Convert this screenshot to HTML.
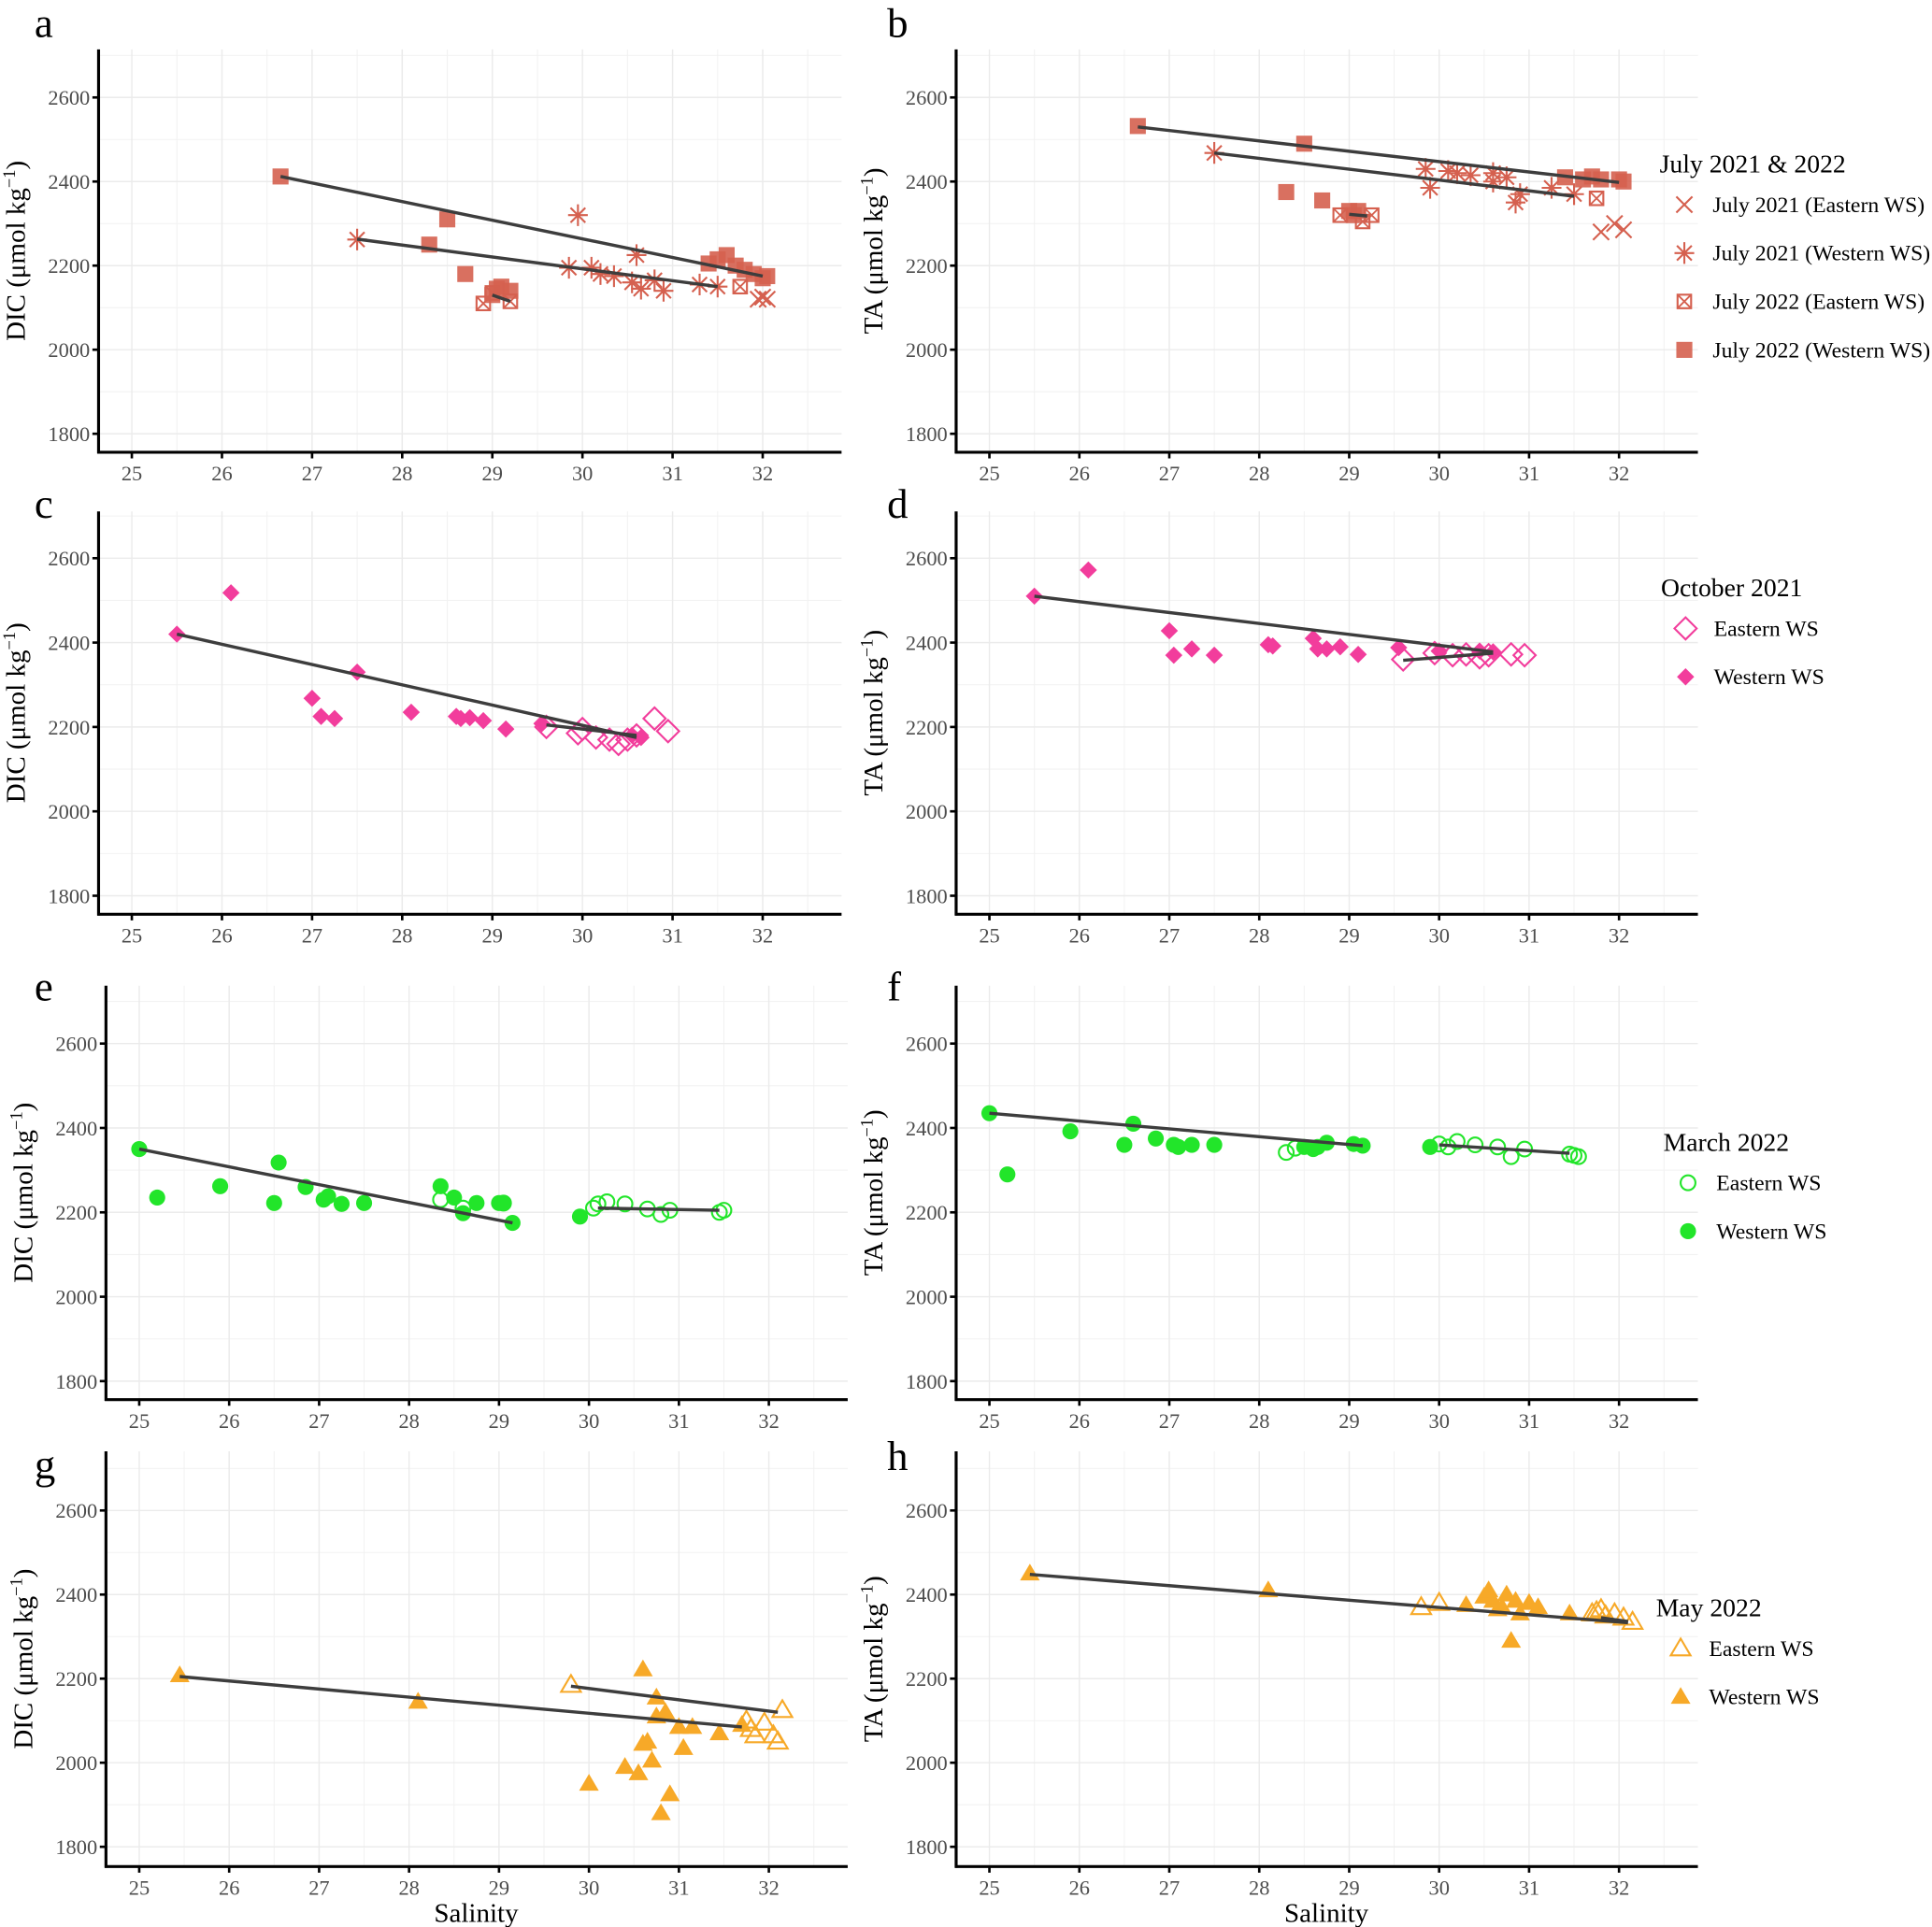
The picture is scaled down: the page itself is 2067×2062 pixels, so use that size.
<!DOCTYPE html>
<html><head><meta charset="utf-8"><style>
html,body{margin:0;padding:0;background:#fff}
svg{display:block}
text{font-family:"Liberation Serif","DejaVu Serif",serif}
</style></head><body>
<svg id="chart" width="2067" height="2062" viewBox="0 0 1568 1564" xmlns="http://www.w3.org/2000/svg"></svg>
<script>
// ---- data ----
const xTicks = [25,26,27,28,29,30,31,32];
const yTicks = [1800,2000,2200,2400,2600];
// Panel a: DIC July
const aW22 = [[26.65,2412],[28.5,2310],[28.3,2250],[28.7,2180],[29.0,2130],[29.1,2150],[29.2,2140],[29.05,2145],[31.4,2205],[31.5,2215],[31.6,2225],[31.7,2200],[31.8,2190],[31.9,2180],[32.0,2170],[32.05,2175]];
const aE22 = [[28.9,2110],[29.2,2115],[29.0,2135],[31.75,2150]];
const aW21 = [[27.5,2262],[29.95,2320],[29.85,2195],[30.1,2195],[30.2,2180],[30.35,2175],[30.6,2225],[30.55,2160],[30.65,2145],[30.8,2165],[30.9,2140],[31.3,2155],[31.5,2150]];
const aE21 = [[31.95,2120],[32.05,2120],[32.0,2125]];
const aLines = [[26.65,2412,32.0,2175],[27.5,2263,31.5,2150],[29.0,2130,29.2,2115]];
// Panel b: TA July
const bW22 = [[26.65,2532],[28.5,2490],[28.3,2375],[28.7,2355],[29.0,2330],[29.1,2330],[29.05,2320],[31.4,2410],[31.6,2405],[31.7,2412],[31.8,2405],[32.0,2405],[32.05,2400]];
const bE22 = [[28.9,2320],[29.15,2305],[29.25,2320],[31.75,2360]];
const bW21 = [[27.5,2468],[29.85,2430],[29.9,2385],[30.1,2425],[30.2,2420],[30.35,2415],[30.6,2420],[30.6,2400],[30.75,2410],[30.85,2350],[30.9,2370],[31.25,2385],[31.5,2370]];
const bE21 = [[31.8,2280],[31.95,2300],[32.05,2285]];
const bLines = [[26.65,2530,32.0,2398],[27.5,2468,31.5,2365],[29.0,2322,29.2,2318]];
// Panel c: DIC October
const cW = [[25.5,2420],[26.1,2518],[27.0,2268],[27.1,2225],[27.25,2220],[27.5,2330],[28.1,2235],[28.6,2225],[28.65,2220],[28.75,2222],[28.9,2215],[29.15,2195],[29.55,2208],[30.55,2180],[30.65,2175]];
const cE = [[29.6,2200],[29.95,2185],[30.0,2195],[30.15,2175],[30.3,2170],[30.4,2160],[30.5,2170],[30.6,2180],[30.8,2220],[30.95,2190]];
const cLines = [[25.5,2420,30.6,2175],[29.6,2205,30.6,2180]];
// Panel d: TA October
const dW = [[25.5,2510],[26.1,2572],[27.0,2428],[27.05,2370],[27.25,2385],[27.5,2370],[28.1,2395],[28.15,2392],[28.6,2410],[28.65,2385],[28.75,2385],[28.9,2390],[29.1,2372],[29.55,2388],[30.0,2380],[30.45,2380],[30.6,2378]];
const dE = [[29.6,2360],[29.95,2375],[30.15,2370],[30.3,2372],[30.45,2365],[30.55,2370],[30.8,2372],[30.95,2370]];
const dLines = [[25.5,2510,30.6,2378],[29.6,2358,30.6,2375]];
// Panel e: DIC March
const eW = [[25.0,2350],[25.2,2235],[25.9,2262],[26.5,2222],[26.55,2318],[26.85,2260],[27.05,2230],[27.1,2238],[27.25,2220],[27.5,2222],[28.35,2262],[28.5,2235],[28.6,2198],[28.75,2222],[29.0,2222],[29.05,2222],[29.15,2175],[29.9,2190]];
const eE = [[28.35,2230],[28.6,2210],[29.05,2222],[30.05,2210],[30.1,2220],[30.2,2225],[30.4,2220],[30.65,2208],[30.8,2195],[30.9,2205],[31.45,2200],[31.5,2205]];
const eLines = [[25.0,2350,29.15,2175],[30.1,2210,31.45,2205]];
// Panel f: TA March
const fW = [[25.0,2435],[25.2,2290],[25.9,2392],[26.5,2360],[26.6,2410],[26.85,2375],[27.05,2360],[27.1,2355],[27.25,2360],[27.5,2360],[28.5,2355],[28.6,2350],[28.65,2355],[28.75,2365],[29.05,2362],[29.15,2358],[29.9,2355]];
const fE = [[28.3,2342],[28.4,2352],[30.0,2362],[30.1,2355],[30.2,2368],[30.4,2360],[30.65,2355],[30.8,2332],[30.95,2350],[31.45,2338],[31.5,2335],[31.55,2332]];
const fLines = [[25.0,2435,29.15,2358],[30.0,2360,31.45,2340]];
// Panel g: DIC May
const gW = [[25.45,2208],[28.1,2145],[30.0,1950],[30.4,1990],[30.55,1975],[30.6,2222],[30.6,2045],[30.65,2050],[30.7,2005],[30.75,2110],[30.75,2155],[30.8,1880],[30.85,2120],[30.9,1925],[31.0,2085],[31.05,2035],[31.15,2085],[31.45,2070],[31.7,2090]];
const gE = [[29.8,2185],[31.75,2100],[31.8,2080],[31.85,2065],[31.95,2095],[32.05,2065],[32.1,2050],[32.15,2125]];
const gLines = [[25.45,2205,31.7,2085],[29.8,2182,32.1,2120]];
// Panel h: TA May
const hW = [[25.45,2450],[28.1,2410],[30.3,2375],[30.5,2395],[30.55,2410],[30.6,2385],[30.65,2365],[30.7,2370],[30.75,2400],[30.8,2290],[30.85,2385],[30.9,2355],[31.0,2380],[31.1,2370],[31.45,2355]];
const hE = [[29.8,2370],[30.0,2380],[31.7,2355],[31.75,2360],[31.8,2365],[31.85,2350],[31.95,2355],[32.05,2345],[32.15,2335]];
const hLines = [[25.45,2448,32.1,2333],[31.8,2345,32.1,2336]];

const RED='#d5604f', PINK='#f23d9c', GREEN='#22e52a', ORANGE='#f7a928';
const NS='http://www.w3.org/2000/svg';
const svg=document.getElementById('chart');
function mk(tag,attrs,parent){const e=document.createElementNS(NS,tag);for(const k in attrs)e.setAttribute(k,attrs[k]);(parent||svg).appendChild(e);return e;}

function marker(g,shape,cx,cy,color){
  const s=6.5;
  let grp=mk('g',{},g);
  
  
  if(shape==='sqfill'){mk('rect',{x:cx-s,y:cy-s,width:2*s,height:2*s,fill:color,'fill-opacity':0.9},grp);}
  else if(shape==='sqx'){mk('rect',{x:cx-s+1,y:cy-s+1,width:2*s-2,height:2*s-2,fill:'none',stroke:color,'stroke-width':1.6},grp);
    mk('path',{d:`M${cx-s+1} ${cy-s+1}L${cx+s-1} ${cy+s-1}M${cx+s-1} ${cy-s+1}L${cx-s+1} ${cy+s-1}`,stroke:color,'stroke-width':1.4},grp);}
  else if(shape==='x'){mk('path',{d:`M${cx-s} ${cy-s}L${cx+s} ${cy+s}M${cx+s} ${cy-s}L${cx-s} ${cy+s}`,stroke:color,'stroke-width':1.6},grp);}
  else if(shape==='ast'){const r=8;mk('path',{d:`M${cx-r} ${cy}L${cx+r} ${cy}M${cx} ${cy-r*1.1}L${cx} ${cy+r*1.1}M${cx-6} ${cy-6}L${cx+6} ${cy+6}M${cx+6} ${cy-6}L${cx-6} ${cy+6}`,stroke:color,'stroke-width':1.6},grp);}
  else if(shape==='dfill'){const r=7;mk('path',{d:`M${cx} ${cy-r}L${cx+r} ${cy}L${cx} ${cy+r}L${cx-r} ${cy}Z`,fill:color},grp);}
  else if(shape==='dopen'){const r=9;mk('path',{d:`M${cx} ${cy-r}L${cx+r} ${cy}L${cx} ${cy+r}L${cx-r} ${cy}Z`,fill:'none',stroke:color,'stroke-width':1.6},grp);}
  else if(shape==='cfill'){mk('circle',{cx,cy,r:6.5,fill:color},grp);}
  else if(shape==='copen'){mk('circle',{cx,cy,r:6,fill:'none',stroke:color,'stroke-width':1.6},grp);}
  else if(shape==='tfill'){const r=8;mk('path',{d:`M${cx} ${cy-r}L${cx+r} ${cy+r*0.7}L${cx-r} ${cy+r*0.7}Z`,fill:color},grp);}
  else if(shape==='topen'){const r=8;mk('path',{d:`M${cx} ${cy-r}L${cx+r} ${cy+r*0.7}L${cx-r} ${cy+r*0.7}Z`,fill:'none',stroke:color,'stroke-width':1.6},grp);}
}

function panel(o){
  const g=mk('g',{});
  
  
  const xs=v=>o.x25+(v-25)*(o.x32-o.x25)/7;
  const ys=v=>o.y1800-(v-1800)*(o.y1800-o.y2600)/800;
  const x0=o.axL, x1=o.axR, y0=o.top, y1=o.axB;
  for(let v=24.5;v<=33;v+=1){const X=xs(v);if(X>x0&&X<x1)mk('line',{x1:X,x2:X,y1:y0,y2:y1,stroke:'#f2f2f2','stroke-width':0.8},g);}
  for(let v=1700;v<=2700;v+=200){const Y=ys(v);if(Y>y0&&Y<y1)mk('line',{x1:x0,x2:x1,y1:Y,y2:Y,stroke:'#f2f2f2','stroke-width':0.8},g);}
  xTicks.forEach(v=>{const X=xs(v);mk('line',{x1:X,x2:X,y1:y0,y2:y1,stroke:'#ebebeb','stroke-width':1.1},g);});
  yTicks.forEach(v=>{const Y=ys(v);mk('line',{x1:x0,x2:x1,y1:Y,y2:Y,stroke:'#ebebeb','stroke-width':1.1},g);});
  const ya=mk('line',{x1:x0,x2:x0,y1:y0,y2:y1+1,stroke:'#000','stroke-width':2.4},g);
  
  const xa=mk('line',{x1:x0-1,x2:x1,y1:y1,y2:y1,stroke:'#000','stroke-width':2.4},g);
  
  xTicks.forEach(v=>{const X=xs(v);mk('line',{x1:X,x2:X,y1:y1,y2:y1+5,stroke:'#000','stroke-width':2},g);
    const t=mk('text',{x:X,y:y1+23,'font-size':17,fill:'#4d4d4d','text-anchor':'middle'},g);t.textContent=v;
    });
  yTicks.forEach(v=>{const Y=ys(v);mk('line',{x1:x0-5,x2:x0,y1:Y,y2:Y,stroke:'#000','stroke-width':2},g);
    const t=mk('text',{x:x0-7,y:Y+6,'font-size':17,fill:'#4d4d4d','text-anchor':'end'},g);t.textContent=v;
    });
  const cy=(y0+y1)/2;
  const yt=mk('text',{x:0,y:0,'font-size':22,fill:'#000','text-anchor':'middle',transform:`translate(${o.ytx},${cy}) rotate(-90)`},g);
  yt.innerHTML=o.yvar+' (μmol kg<tspan dy="-8" font-size="14">−1</tspan><tspan dy="8">)</tspan>';
  
  const lt=mk('text',{x:o.lx,y:o.ly,'font-size':34,fill:'#000'},g);lt.textContent=o.letter;
  
  if(o.xtitle){const xt=mk('text',{x:(xs(25)+xs(32))/2+18,y:y1+45,'font-size':22,fill:'#000','text-anchor':'middle'},g);xt.textContent='Salinity';
    }
  o.series.forEach(s=>{s.data.forEach(p=>marker(g,s.shape,xs(p[0]),ys(p[1]),s.color));});
  o.lines.forEach(l=>{const ln=mk('line',{x1:xs(l[0]),y1:ys(l[1]),x2:xs(l[2]),y2:ys(l[3]),stroke:'#3d3d3d','stroke-width':2.6},g);
    });
}

function legend(name,x,y,title,entries){
  const g=mk('g',{});
  
  
  const t=mk('text',{x:x,y:y,'font-size':21,fill:'#000'},g);t.textContent=title;
  entries.forEach((e,i)=>{const ey=y+32+i*39.3;
    const eg=mk('g',{},g);
    
    
    marker(eg,e[0],x+20,ey-6,e[1]);
    const tt=mk('text',{x:x+43,y:ey,'font-size':18,fill:'#000'},eg);tt.textContent=e[2];});
}

const L={axL:80,axR:683,x25:107,x32:619}, R={axL:776,axR:1378,x25:803,x32:1314};
const L2={axL:86,axR:688,x25:113,x32:624}, R2={axL:776,axR:1378,x25:803,x32:1314};
const redS=(w22,e22,w21,e21)=>[{data:w22,shape:'sqfill',color:RED},{data:e22,shape:'sqx',color:RED},{data:w21,shape:'ast',color:RED},{data:e21,shape:'x',color:RED}];
panel({...L,name:'panel-a-dic-july',top:40,y2600:79,y1800:352,axB:367,ytx:20,yvar:'DIC',letter:'a',lx:28,ly:30,series:redS(aW22,aE22,aW21,aE21),lines:aLines});
panel({...R,name:'panel-b-ta-july',top:40,y2600:79,y1800:352,axB:367,ytx:716,yvar:'TA',letter:'b',lx:720,ly:30,series:redS(bW22,bE22,bW21,bE21),lines:bLines});
panel({...L,name:'panel-c-dic-october',top:415,y2600:453,y1800:727,axB:742,ytx:20,yvar:'DIC',letter:'c',lx:28,ly:420,series:[{data:cE,shape:'dopen',color:PINK},{data:cW,shape:'dfill',color:PINK}],lines:cLines});
panel({...R,name:'panel-d-ta-october',top:415,y2600:453,y1800:727,axB:742,ytx:716,yvar:'TA',letter:'d',lx:720,ly:420,series:[{data:dE,shape:'dopen',color:PINK},{data:dW,shape:'dfill',color:PINK}],lines:dLines});
panel({...L2,name:'panel-e-dic-march',top:800,y2600:847,y1800:1121,axB:1136,ytx:26,yvar:'DIC',letter:'e',lx:28,ly:812,series:[{data:eE,shape:'copen',color:GREEN},{data:eW,shape:'cfill',color:GREEN}],lines:eLines});
panel({...R2,name:'panel-f-ta-march',top:800,y2600:847,y1800:1121,axB:1136,ytx:716,yvar:'TA',letter:'f',lx:720,ly:812,series:[{data:fE,shape:'copen',color:GREEN},{data:fW,shape:'cfill',color:GREEN}],lines:fLines});
panel({...L2,name:'panel-g-dic-may',top:1178,y2600:1226,y1800:1499,axB:1515,ytx:26,yvar:'DIC',letter:'g',lx:28,ly:1200,xtitle:true,series:[{data:gE,shape:'topen',color:ORANGE},{data:gW,shape:'tfill',color:ORANGE}],lines:gLines});
panel({...R2,name:'panel-h-ta-may',top:1178,y2600:1226,y1800:1499,axB:1515,ytx:716,yvar:'TA',letter:'h',lx:720,ly:1193,xtitle:true,series:[{data:hE,shape:'topen',color:ORANGE},{data:hW,shape:'tfill',color:ORANGE}],lines:hLines});

legend('legend-july',1347,140,'July 2021 & 2022',[['x',RED,'July 2021 (Eastern WS)'],['ast',RED,'July 2021 (Western WS)'],['sqx',RED,'July 2022 (Eastern WS)'],['sqfill',RED,'July 2022 (Western WS)']]);
legend('legend-october',1348,484,'October 2021',[['dopen',PINK,'Eastern WS'],['dfill',PINK,'Western WS']]);
legend('legend-march',1350,934,'March 2022',[['copen',GREEN,'Eastern WS'],['cfill',GREEN,'Western WS']]);
legend('legend-may',1344,1312,'May 2022',[['topen',ORANGE,'Eastern WS'],['tfill',ORANGE,'Western WS']]);
</script>
</body></html>
